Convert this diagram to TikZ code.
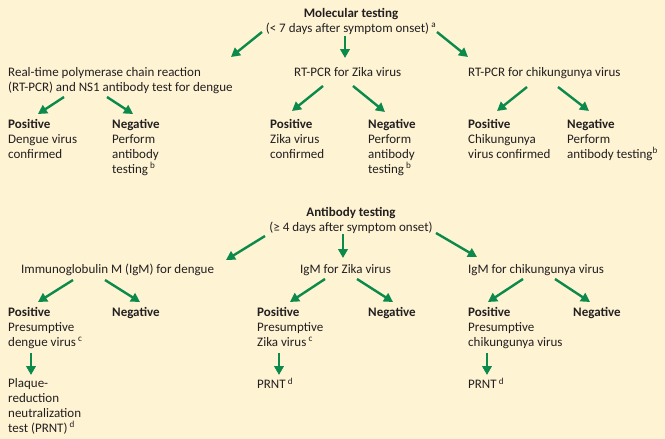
\documentclass[tikz,border=0pt]{standalone}
\usepackage{fontspec}
\setmainfont{Carlito}
\usetikzlibrary{arrows.meta}

\definecolor{paper}{HTML}{FEF3D3}
\definecolor{arrowgreen}{HTML}{0B8A4B}
\definecolor{ink}{HTML}{231F20}

\tikzset{
    txt/.style={anchor=north west, inner sep=0pt, align=left, text=ink,
        font=\fontsize{13}{15}\selectfont},
    head/.style={anchor=north, inner sep=0pt, align=center, text=ink,
        font=\fontsize{13}{15}\selectfont},
    arr/.style={draw=arrowgreen, line width=2.4pt,
        -{Triangle[length=9pt,width=9.5pt]}},
}
\newcommand{\fn}[1]{\,\textsuperscript{#1}}

\begin{document}
\begin{tikzpicture}[x=1pt, y=-1pt]
    \fill[paper] (0,0) rectangle (665,439);
    \useasboundingbox (0,0) rectangle (665,439);

    % molecular testing
    \node[head] (mol)   at (351,8)   {\textbf{Molecular testing}\\(< 7 days after symptom onset)\fn{a}};
    \node[txt]  (dng)   at (8,67)    {Real-time polymerase chain reaction\\(RT-PCR) and NS1 antibody test for dengue};
    \node[txt]  (zk)    at (294,67)  {RT-PCR for Zika virus};
    \node[txt]  (chk)   at (468,67)  {RT-PCR for chikungunya virus};
    \node[txt]  (dpos)  at (8,119)   {\textbf{Positive}\\Dengue virus\\confirmed};
    \node[txt]  (dneg)  at (112,119) {\textbf{Negative}\\Perform\\antibody\\testing\fn{b}};
    \node[txt]  (zpos)  at (270,119) {\textbf{Positive}\\Zika virus\\confirmed};
    \node[txt]  (zneg)  at (368,119) {\textbf{Negative}\\Perform\\antibody\\testing\fn{b}};
    \node[txt]  (cpos)  at (468,119) {\textbf{Positive}\\Chikungunya\\virus confirmed};
    \node[txt]  (cneg)  at (567,119) {\textbf{Negative}\\Perform\\antibody testing\textsuperscript{b}};

    \draw[arr] ([xshift=-89pt,yshift=-24pt]mol.north) -- ([xshift=223pt,yshift=10pt]dng.north west);
    \draw[arr] ([xshift=-6pt,yshift=-28pt]mol.north)  -- ([xshift=51pt,yshift=9pt]zk.north west);
    \draw[arr] ([xshift=86pt,yshift=-24pt]mol.north)  -- ([xshift=0pt,yshift=10pt]chk.north west);
    \draw[arr] ([xshift=56pt,yshift=-30pt]dng.north west) -- ([xshift=30pt,yshift=5pt]dpos.north west);
    \draw[arr] ([xshift=99pt,yshift=-30pt]dng.north west) -- ([xshift=21pt,yshift=5pt]dneg.north west);
    \draw[arr] ([xshift=29pt,yshift=-19pt]zk.north west)  -- ([xshift=22pt,yshift=8pt]zpos.north west);
    \draw[arr] ([xshift=59pt,yshift=-19pt]zk.north west)  -- ([xshift=17pt,yshift=7pt]zneg.north west);
    \draw[arr] ([xshift=59pt,yshift=-20pt]chk.north west) -- ([xshift=29pt,yshift=8pt]cpos.north west);
    \draw[arr] ([xshift=90pt,yshift=-20pt]chk.north west) -- ([xshift=22pt,yshift=8pt]cneg.north west);

    % antibody testing
    \node[head] (ab)    at (351,207) {\textbf{Antibody testing}\\(≥ 4 days after symptom onset)};
    \node[txt]  (idng)  at (21,264)  {Immunoglobulin M (IgM) for dengue};
    \node[txt]  (izk)   at (300,264) {IgM for Zika virus};
    \node[txt]  (ichk)  at (468,264) {IgM for chikungunya virus};
    \node[txt]  (ldpos) at (8,307)   {\textbf{Positive}\\Presumptive\\dengue virus\fn{c}};
    \node[txt]  (ldneg) at (112,307) {\textbf{Negative}};
    \node[txt]  (lzpos) at (257,307) {\textbf{Positive}\\Presumptive\\Zika virus\fn{c}};
    \node[txt]  (lzneg) at (368,307) {\textbf{Negative}};
    \node[txt]  (lcpos) at (468,307) {\textbf{Positive}\\Presumptive\\chikungunya virus};
    \node[txt]  (lcneg) at (573,307) {\textbf{Negative}};
    \node[txt]  (prd)   at (8,378)   {Plaque-\\reduction\\neutralization\\test (PRNT)\fn{d}};
    \node[txt]  (prz)   at (257,378) {PRNT\fn{d}};
    \node[txt]  (prc)   at (468,378) {PRNT\fn{d}};

    \draw[arr] ([xshift=-86pt,yshift=-29pt]ab.north) -- ([xshift=205pt,yshift=4pt]idng.north west);
    \draw[arr] ([xshift=-8pt,yshift=-27pt]ab.north)  -- ([xshift=43pt,yshift=6pt]izk.north west);
    \draw[arr] ([xshift=85pt,yshift=-26pt]ab.north)  -- ([xshift=9pt,yshift=7pt]ichk.north west);
    \draw[arr] ([xshift=52pt,yshift=-16pt]idng.north west) -- ([xshift=30pt,yshift=5pt]ldpos.north west);
    \draw[arr] ([xshift=84pt,yshift=-16pt]idng.north west) -- ([xshift=28pt,yshift=5pt]ldneg.north west);
    \draw[arr] ([xshift=25pt,yshift=-15pt]izk.north west)  -- ([xshift=33pt,yshift=5pt]lzpos.north west);
    \draw[arr] ([xshift=57pt,yshift=-15pt]izk.north west)  -- ([xshift=25pt,yshift=5pt]lzneg.north west);
    \draw[arr] ([xshift=55pt,yshift=-15pt]ichk.north west) -- ([xshift=20pt,yshift=5pt]lcpos.north west);
    \draw[arr] ([xshift=87pt,yshift=-15pt]ichk.north west) -- ([xshift=17pt,yshift=5pt]lcneg.north west);
    \draw[arr] ([xshift=23pt,yshift=-46pt]ldpos.north west) -- ([xshift=23pt,yshift=3pt]prd.north west);
    \draw[arr] ([xshift=22pt,yshift=-46pt]lzpos.north west) -- ([xshift=22pt,yshift=3pt]prz.north west);
    \draw[arr] ([xshift=19pt,yshift=-46pt]lcpos.north west) -- ([xshift=19pt,yshift=3pt]prc.north west);
\end{tikzpicture}
\end{document}
